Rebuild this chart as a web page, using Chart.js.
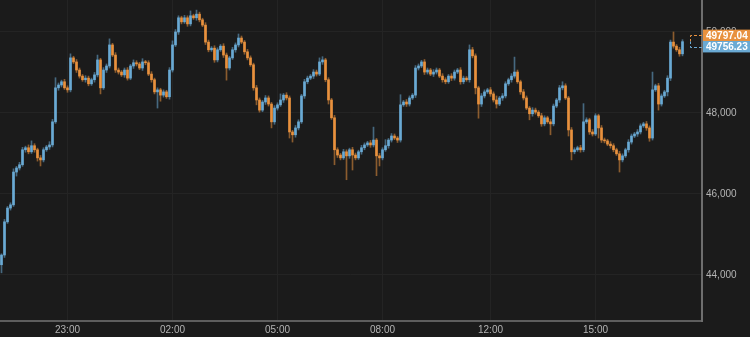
<!DOCTYPE html>
<html>
<head>
<meta charset="utf-8">
<script src="https://cdn.jsdelivr.net/npm/chart.js@4.4.1/dist/chart.umd.min.js"></script>
<style>
    body { margin: 0; background: #1b1b1b; }
    #wrap { width: 750px; height: 337px; }
</style>
</head>
<body>
<div id="wrap"><canvas id="priceChart" width="750" height="337"></canvas></div>
<script>
// Candle closes (5 min candles)
const closes = [
    44490, 45310, 45650, 45730, 46540, 46640, 46720, 47090, 47140, 47040,
    47190, 47090, 46890, 46840, 47090, 47160, 47210, 47780, 48620, 48690,
    48770, 48620, 48570, 49360, 49260, 49060, 48910, 48820, 48860, 48720,
    48820, 48940, 49310, 48620, 49060, 49160, 49680, 49430, 49060, 49010,
    48940, 49060, 48860, 49160, 49240, 49210, 49110, 49260, 49240, 48960,
    48820, 48520, 48570, 48440, 48520, 48400, 49060, 49680, 50000, 50350,
    50250, 50350, 50200, 50400, 50350, 50440, 50300, 50170, 49750, 49560,
    49600, 49310, 49560, 49650, 49430, 49110, 49360, 49560, 49680, 49850,
    49750, 49510, 49360, 49190, 48620, 48320, 48070, 48270, 48370, 48220,
    47780, 48120, 48200, 48320, 48440, 48370, 47530, 47460, 47630, 47780,
    48420, 48770, 48860, 48910, 49010, 48960, 49260, 49310, 48820, 48320,
    47880, 47090, 46960, 46890, 47040, 46940, 47090, 46960, 46890, 47040,
    47140, 47210, 47260, 47210, 47330, 46940, 46890, 47090, 47190, 47330,
    47430, 47380, 47330, 48200, 48270, 48220, 48370, 48440, 49110, 49160,
    49260, 49010, 49060, 48960, 49010, 49060, 48910, 48820, 48770, 48910,
    48860, 49010, 49060, 48770, 48860, 48820, 49560, 49410, 48620, 48220,
    48420, 48520, 48570, 48470, 48320, 48220, 48370, 48420, 48720, 48820,
    48910, 49010, 48770, 48520, 48370, 48120, 47980, 48070, 48020, 47930,
    47730, 47880, 47780, 47730, 48170, 48320, 48620, 48670, 48370, 47580,
    47040, 47090, 47140, 47090, 47780, 47830, 47530, 47480, 47930, 47630,
    47330, 47310, 47230, 47190, 47090, 46990, 46840, 46940, 47090, 47280,
    47430, 47480, 47530, 47680, 47730, 47630, 47380, 48570, 48670, 48220,
    48420, 48520, 48860, 49750, 49650, 49560, 49460, 49760
];
const firstOpen = 44250;

// Wick lengths above / below the body
const wickUp = [
    30, 60, 40, 50, 80, 40, 60, 60, 40, 70,
    120, 50, 40, 60, 50, 40, 80, 60, 250, 50,
    40, 60, 50, 100, 40, 60, 50, 40, 60, 50,
    40, 60, 120, 40, 60, 50, 150, 40, 60, 50,
    40, 50, 60, 40, 70, 50, 40, 80, 40, 50,
    60, 40, 50, 40, 50, 40, 60, 100, 60, 50,
    40, 60, 50, 120, 40, 100, 50, 40, 60, 50,
    40, 60, 50, 40, 60, 50, 40, 60, 50, 100,
    50, 40, 60, 50, 40, 60, 50, 40, 60, 50,
    40, 60, 50, 150, 40, 60, 50, 40, 60, 50,
    40, 60, 50, 40, 60, 50, 100, 80, 40, 50,
    40, 60, 50, 40, 60, 50, 40, 60, 50, 40,
    60, 50, 40, 60, 320, 40, 60, 50, 150, 40,
    60, 50, 40, 250, 40, 60, 50, 40, 60, 50,
    40, 60, 50, 40, 60, 50, 40, 60, 50, 40,
    60, 50, 40, 60, 50, 40, 120, 60, 50, 40,
    60, 50, 40, 60, 50, 100, 40, 60, 50, 40,
    60, 370, 50, 40, 60, 50, 40, 60, 50, 40,
    60, 50, 40, 60, 50, 40, 60, 100, 50, 40,
    60, 50, 40, 60, 450, 50, 40, 60, 50, 40,
    60, 50, 40, 60, 50, 40, 60, 50, 40, 60,
    50, 40, 60, 50, 40, 60, 50, 440, 40, 60,
    50, 40, 60, 50, 250, 40, 60, 50
];
const wickDown = [
    200, 60, 40, 50, 40, 100, 50, 40, 60, 50,
    40, 60, 80, 150, 50, 40, 60, 50, 40, 60,
    50, 40, 60, 50, 40, 60, 50, 40, 60, 50,
    40, 60, 50, 150, 40, 60, 50, 40, 60, 50,
    40, 60, 50, 40, 60, 50, 40, 60, 50, 40,
    60, 50, 400, 150, 50, 40, 60, 50, 40, 60,
    50, 40, 60, 50, 40, 60, 50, 40, 60, 50,
    40, 60, 50, 40, 60, 300, 50, 40, 60, 50,
    40, 60, 50, 40, 60, 120, 50, 40, 60, 50,
    150, 60, 50, 40, 60, 50, 150, 180, 60, 50,
    40, 60, 50, 40, 60, 50, 40, 60, 50, 100,
    40, 370, 60, 50, 40, 590, 60, 370, 50, 40,
    60, 50, 40, 60, 50, 490, 200, 50, 40, 60,
    50, 40, 60, 50, 40, 60, 50, 40, 60, 50,
    40, 60, 50, 40, 60, 50, 40, 60, 50, 40,
    60, 50, 40, 60, 50, 40, 60, 50, 150, 350,
    60, 50, 40, 60, 50, 100, 40, 60, 50, 40,
    60, 50, 40, 60, 50, 40, 150, 60, 50, 40,
    60, 50, 40, 270, 50, 40, 60, 50, 40, 150,
    200, 50, 40, 60, 50, 40, 60, 50, 40, 250,
    60, 50, 40, 60, 50, 40, 300, 50, 40, 60,
    50, 40, 60, 50, 40, 60, 80, 50, 40, 150,
    50, 40, 100, 60, 50, 40, 60, 50
];

// Time axis: number of 5 min slots and where the labels sit
const slotCount = 234;
const timeLabels = ['23:00', '02:00', '05:00', '08:00', '12:00', '15:00'];
const timeIndex = [22, 57, 92, 127, 163, 198];

// Price axis ticks and the two last-price tags
const yTicks = [44000, 46000, 48000, 50000];
const lastPrices = [49797.04, 49756.23];

const UP = '#6aaad4';
const DOWN = '#e8913e';
const UP_WICK = 'rgba(106, 170, 212, 0.55)';
const DOWN_WICK = 'rgba(232, 145, 62, 0.55)';

// Build OHLC from the arrays
const opens = closes.map((c, i) => i === 0 ? firstOpen : closes[i - 1]);
const highs = closes.map((c, i) => Math.max(opens[i], c) + wickUp[i]);
const lows = closes.map((c, i) => Math.min(opens[i], c) - wickDown[i]);
const isUp = closes.map((c, i) => c >= opens[i]);

const labels = [];
for (let i = 0; i < slotCount; i++) {
    const k = timeIndex.indexOf(i);
    labels.push(k >= 0 ? timeLabels[k] : '');
}

const bodies = closes.map((c, i) => [opens[i], c]);
const wicks = closes.map((c, i) => [lows[i], highs[i]]);

// Last price tags drawn over the right axis
const lastPricePlugin = {
    id: 'lastPrice',
    afterDraw(chart) {
        const ctx = chart.ctx;
        const area = chart.chartArea;
        const yScale = chart.scales.y;
        const mid = (yScale.getPixelForValue(lastPrices[0]) + yScale.getPixelForValue(lastPrices[1])) / 2;
        const boxH = 11.4;
        const centers = [mid - boxH / 2, mid + boxH / 2];
        const colors = [DOWN, UP];
        const xLeft = area.right - 12;

        ctx.save();
        ctx.lineWidth = 1;
        ctx.setLineDash([3, 2]);
        lastPrices.forEach((p, k) => {
            ctx.strokeStyle = colors[k];
            ctx.beginPath();
            ctx.moveTo(area.right, Math.round(centers[k]) + 0.5);
            ctx.lineTo(xLeft + 0.5, Math.round(centers[k]) + 0.5);
            ctx.lineTo(xLeft + 0.5, Math.round(mid) + 0.5);
            ctx.stroke();
        });
        ctx.setLineDash([]);
        ctx.font = 'bold 10px "Liberation Sans", Arial, sans-serif';
        ctx.textBaseline = 'middle';
        ctx.textAlign = 'left';
        lastPrices.forEach((p, k) => {
            ctx.fillStyle = colors[k];
            ctx.fillRect(area.right + 1, centers[k] - boxH / 2, chart.width - area.right - 1, boxH);
            ctx.fillStyle = '#ffffff';
            ctx.fillText(p.toFixed(2), area.right + 4, centers[k] + 0.5);
        });
        ctx.restore();
    }
};

const ctx = document.getElementById('priceChart').getContext('2d');
new Chart(ctx, {
    type: 'bar',
    data: {
        labels: labels,
        datasets: [
            {
                label: 'Body',
                data: bodies,
                backgroundColor: isUp.map(u => u ? UP : DOWN),
                barThickness: 2,
                minBarLength: 1,
                grouped: false,
                order: 0
            },
            {
                label: 'Wick',
                data: wicks,
                backgroundColor: isUp.map(u => u ? UP_WICK : DOWN_WICK),
                barThickness: 1,
                grouped: false,
                order: 1
            }
        ]
    },
    options: {
        responsive: false,
        animation: false,
        layout: { padding: 0 },
        plugins: {
            legend: { display: false },
            tooltip: { enabled: false }
        },
        scales: {
            x: {
                offset: true,
                grid: {
                    offset: false,
                    color: '#242424',
                    drawTicks: false
                },
                border: { display: true, color: '#5e5e5e', width: 2 },
                ticks: {
                    autoSkip: false,
                    maxRotation: 0,
                    padding: 3,
                    color: '#b4b4b4',
                    font: { family: '"Liberation Sans", Arial, sans-serif', size: 10 },
                    callback: function(value, index) {
                        return labels[index] ? labels[index] : null;
                    }
                },
                afterFit: function(scale) {
                    scale.height = 16;
                    scale.paddingLeft = 0;
                    scale.paddingRight = 0;
                }
            },
            y: {
                position: 'right',
                min: 42860,
                max: 50790,
                grid: {
                    color: '#242424',
                    drawTicks: false
                },
                border: { display: true, color: '#6e6e6e', width: 2 },
                ticks: {
                    padding: 4,
                    color: '#b4b4b4',
                    font: { family: '"Liberation Sans", Arial, sans-serif', size: 10 },
                    callback: v => v.toLocaleString('en-US')
                },
                afterBuildTicks: function(scale) {
                    scale.ticks = yTicks.map(v => ({ value: v }));
                },
                afterFit: function(scale) {
                    scale.width = 48;
                    scale.paddingTop = 0;
                    scale.paddingBottom = 0;
                }
            }
        }
    },
    plugins: [lastPricePlugin]
});
</script>
</body>
</html>
